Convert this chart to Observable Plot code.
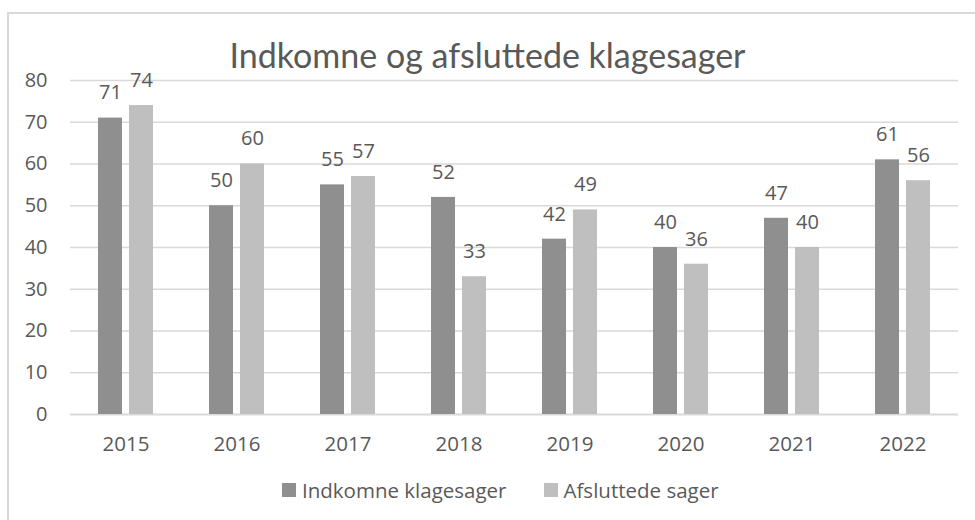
<!DOCTYPE html>
<html>
<head>
<meta charset="utf-8">
<script src="https://cdn.jsdelivr.net/npm/d3@7"></script>
<script src="https://cdn.jsdelivr.net/npm/@observablehq/plot@0.6"></script>
<style>
  html, body { margin: 0; padding: 0; background: #fff; }
  #wrap { position: relative; width: 975px; height: 520px; overflow: hidden; background: #fff; font-family: "Open Sans", sans-serif; color: #595959; }
  #frame { position: absolute; left: 7px; top: 12px; width: 1000px; height: 600px; border-left: 2px solid #d9d9d9; border-top: 2px solid #d9d9d9; }
  #title { position: absolute; left: 0; width: 975px; top: 33px; text-align: center; font-family: "Lato", sans-serif; font-weight: 400; font-size: 34px; color: #595959; line-height: 44px; }
  #chart { position: absolute; left: 0; top: 0; }
  #legend { position: absolute; left: 282px; top: 476px; display: flex; align-items: center; font-size: 20.5px; color: #595959; white-space: nowrap; }
  .item { display: flex; align-items: center; margin-right: 37px; }
  .sw { width: 14px; height: 14px; margin-right: 6px; }
</style>
</head>
<body>
<div id="wrap">
  <div id="frame"></div>
  <div id="chart"></div>
  <div id="title"></div>
  <div id="legend"></div>
</div>
<script>
const title = "Indkomne og afsluttede klagesager";
const years = ["2015", "2016", "2017", "2018", "2019", "2020", "2021", "2022"];
const seriesNames = ["Indkomne klagesager", "Afsluttede sager"];
const indkomne = [71, 50, 55, 52, 42, 40, 47, 61];
const afsluttede = [74, 60, 57, 33, 49, 36, 40, 56];
const yTicks = [0, 10, 20, 30, 40, 50, 60, 70, 80];
const colors = ["#8f8f8f", "#bfbfbf"];

const data = [];
years.forEach((y, i) => {
  data.push({year: y, series: seriesNames[0], value: indkomne[i]});
  data.push({year: y, series: seriesNames[1], value: afsluttede[i]});
});

const textColor = "#595959";

const chart = Plot.plot({
  width: 975,
  height: 520,
  marginLeft: 69,
  marginRight: 16,
  marginTop: 80,
  marginBottom: 106,
  style: {fontFamily: "'Open Sans', sans-serif", color: textColor, background: "transparent"},
  fx: {domain: years, paddingInner: 0, paddingOuter: 0, label: null},
  x: {domain: seriesNames, paddingInner: 0.22, paddingOuter: 0.86, axis: null},
  y: {domain: [0, 80], label: null},
  color: {domain: seriesNames, range: colors},
  marks: [
    Plot.gridY(yTicks.slice(1), {stroke: "#d9d9d9", strokeOpacity: 1, strokeWidth: 1.3}),
    Plot.ruleY([0], {stroke: "#d9d9d9", strokeWidth: 2}),
    Plot.axisY(yTicks, {tickSize: 0, tickPadding: 23, fontSize: 20, fill: textColor, label: null}),
    Plot.axisFx({anchor: "bottom", tickSize: 0, tickPadding: 22, fontSize: 20.5, fill: textColor, label: null}),
    Plot.barY(data, {fx: "year", x: "series", y: "value", fill: "series"}),
    Plot.text(data, {fx: "year", x: "series", y: "value", text: d => String(d.value), dy: -25, fontSize: 20, fill: textColor})
  ]
});
document.getElementById("chart").appendChild(chart);
document.getElementById("title").textContent = title;

const legend = document.getElementById("legend");
seriesNames.forEach((name, i) => {
  const item = document.createElement("div");
  item.className = "item";
  const sw = document.createElement("div");
  sw.className = "sw";
  sw.style.background = colors[i];
  const label = document.createElement("span");
  label.textContent = name;
  item.appendChild(sw);
  item.appendChild(label);
  legend.appendChild(item);
});
</script>
</body>
</html>
